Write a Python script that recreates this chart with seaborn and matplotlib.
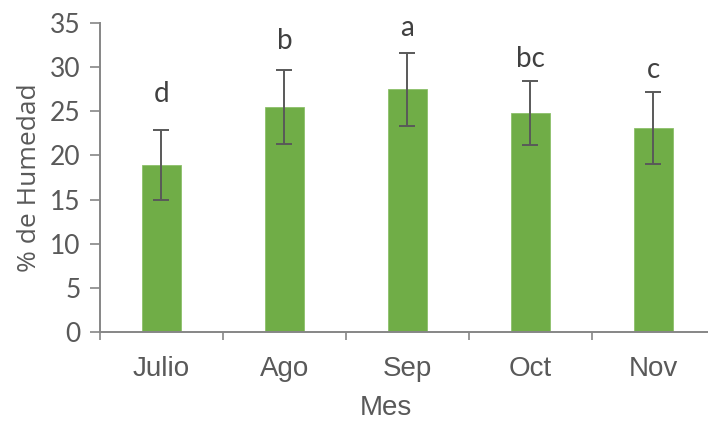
import matplotlib
matplotlib.use("Agg")
import matplotlib.pyplot as plt
import seaborn as sns
import pandas as pd
import numpy as np
from matplotlib.ticker import FixedLocator, NullFormatter

# Monthly soil moisture (%), with standard deviation and significance letters
meses = ["Julio", "Ago", "Sep", "Oct", "Nov"]
humedad = [18.9, 25.5, 27.5, 24.8, 23.1]
desv = [4.0, 4.15, 4.15, 3.65, 4.1]
letras = ["d", "b", "a", "bc", "c"]
letras_y = [26.0, 32.0, 33.5, 30.0, 28.8]
y_ticks = [0, 5, 10, 15, 20, 25, 30, 35]

sns.set_theme(style="white")
plt.rcParams["font.family"] = ["Liberation Sans", "DejaVu Sans"]

texto = "#595959"
eje = "#868686"
verde = "#70AD47"

df = pd.DataFrame({"Mes": meses, "Humedad": humedad})

fig = plt.figure(figsize=(7.08, 4.25), dpi=100)
ax = fig.add_axes([0.1412, 0.2188, 0.8686, 0.7271])

sns.barplot(data=df, x="Mes", y="Humedad", color=verde, saturation=1,
            width=0.31, ax=ax, edgecolor="#8DC06A", linewidth=0.6)

ax.errorbar(np.arange(len(meses)), humedad, yerr=desv, fmt="none",
            ecolor="#595959", elinewidth=1.4, capsize=5.5, capthick=1.4)

for i, (t, yy) in enumerate(zip(letras, letras_y)):
    ax.text(i, yy, t, ha="center", va="baseline", fontsize=20,
            color="#404040", family=["Lato", "DejaVu Sans"])

ax.set_xlim(-0.5, len(meses) - 0.5)
ax.set_ylim(0, 35)
ax.set_yticks(y_ticks)
ax.set_yticklabels([str(v) for v in y_ticks], family=["Lato", "DejaVu Sans"],
                   fontsize=19, color=texto)

# category separators as ticks on the x axis
ax.xaxis.set_minor_locator(FixedLocator(np.arange(-0.5, len(meses), 1.0)))
ax.xaxis.set_minor_formatter(NullFormatter())
ax.tick_params(axis="x", which="major", length=0, pad=17, labelsize=20,
               labelcolor=texto)
ax.tick_params(axis="x", which="minor", bottom=True, length=6, width=1.2,
               color=eje, direction="out")
ax.tick_params(axis="y", which="major", left=True, length=7, width=1.2,
               color=eje, direction="out", pad=7)

for s in ["top", "right"]:
    ax.spines[s].set_visible(False)
for s in ["left", "bottom"]:
    ax.spines[s].set_color(eje)
    ax.spines[s].set_linewidth(1.4)

ax.set_xlabel("Mes", fontsize=20, color=texto)
ax.xaxis.set_label_coords(0.465, -0.205)
ax.set_ylabel("% de Humedad", fontsize=19, color=texto, labelpad=6,
              family=["Open Sans", "DejaVu Sans"])

fig.savefig("out.png", dpi=100)
